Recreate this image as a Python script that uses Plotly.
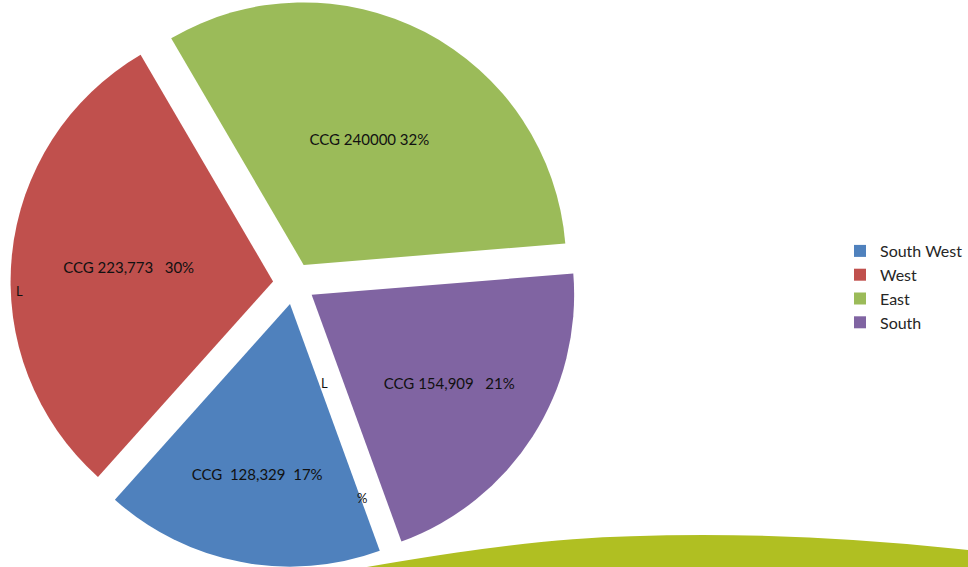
import plotly.graph_objects as go

regions = ["South West", "West", "East", "South"]
values = [128329, 223773, 240000, 154909]
slice_text = ["CCG\u00a0\u00a0128,329\u00a0\u00a017%",
              "CCG 223,773\u00a0\u00a0\u00a030%",
              "CCG 240000 32%",
              "CCG 154,909\u00a0\u00a0\u00a021%"]
colors = ["#4F81BD", "#C0504D", "#9BBB59", "#8064A2"]

fig = go.Figure()
fig.add_trace(go.Pie(
    labels=regions,
    values=values,
    text=slice_text,
    textinfo="text",
    textposition="inside",
    insidetextorientation="horizontal",
    textfont=dict(family="Lato", size=15, color="#111111"),
    marker=dict(colors=colors, line=dict(width=0)),
    sort=False,
    direction="clockwise",
    rotation=160,
    pull=0.08,
    hole=0,
    domain=dict(x=[0.0, 0.615], y=[0, 1]),
    showlegend=True,
))

# green decorative swoosh at the bottom
fig.add_shape(
    type="path", xref="paper", yref="paper", layer="above",
    path=("M 0.344 -0.01 C 0.45 0.022 0.56 0.052 0.66 0.056 "
          "C 0.76 0.062 0.88 0.055 1.0 0.034 L 1.05 0.025 L 1.05 -0.01 Z"),
    fillcolor="#B0BF22", line=dict(color="white", width=2),
)

# stray label fragments visible in the original
for txt, x, y in [("L", 14 / 968, 1 - 291 / 567), ("L", 329 / 968, 1 - 393 / 567),
                  ("%", 367 / 968, 1 - 508 / 567)]:
    fig.add_annotation(x=x, y=y, xref="paper", yref="paper", text=txt,
                       showarrow=False, font=dict(family="Lato", size=13, color="#111111"))

fig.update_layout(
    width=968, height=567,
    margin=dict(l=0, r=0, t=0, b=0),
    paper_bgcolor="white", plot_bgcolor="white",
    legend=dict(x=0.879, y=1 - 234 / 567, xanchor="left", yanchor="top",
                font=dict(family="Lato", size=16, color="#262626"),
                tracegroupgap=0, itemwidth=30),
)

fig.write_html("out.html", config={"displayModeBar": False},
               post_script="document.body.style.margin='0';document.body.style.overflow='hidden';")
